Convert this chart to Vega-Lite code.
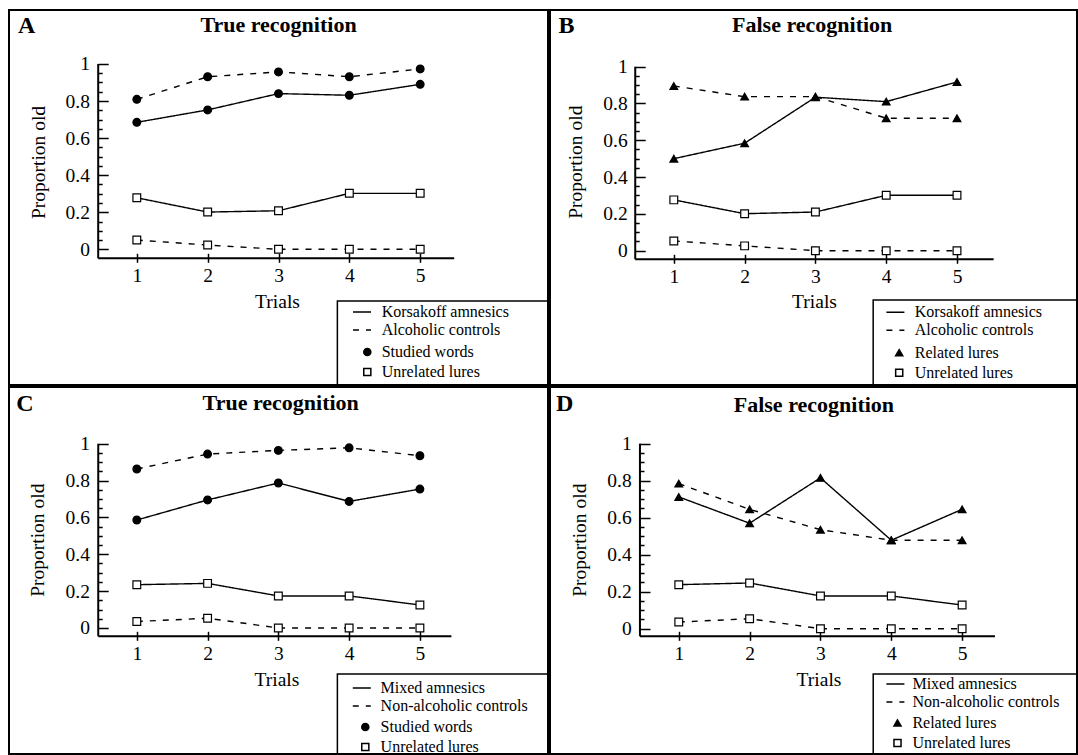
{
  "$schema": "https://vega.github.io/schema/vega-lite/v6.json",
  "padding": {"left": 8, "top": 9, "right": 0, "bottom": 0},
  "background": "white",
  "bounds": "flush",
  "align": "each",
  "spacing": 2,
  "columns": 2,
  "config": {
    "view": {"stroke": "black", "strokeWidth": 2},
    "font": "Liberation Serif",
    "axis": {"labelFont": "Liberation Serif", "titleFont": "Liberation Serif", "labelColor": "black", "titleColor": "black", "tickColor": "black", "grid": false, "domain": false, "labelFontSize": 19.5, "titleFontSize": 19.5},
    "legend": {"labelFont": "Liberation Serif", "labelFontSize": 16, "labelColor": "black", "labelLimit": 400}
  },
  "resolve": {"scale": {"strokeDash": "independent", "shape": "independent", "fill": "independent"}},
  "datasets": {
    "A": [
      {"group": "Korsakoff amnesics", "item": "Studied words", "trial": 1, "value": 0.685},
      {"group": "Korsakoff amnesics", "item": "Studied words", "trial": 2, "value": 0.752},
      {"group": "Korsakoff amnesics", "item": "Studied words", "trial": 3, "value": 0.840},
      {"group": "Korsakoff amnesics", "item": "Studied words", "trial": 4, "value": 0.831},
      {"group": "Korsakoff amnesics", "item": "Studied words", "trial": 5, "value": 0.890},
      {"group": "Alcoholic controls", "item": "Studied words", "trial": 1, "value": 0.809},
      {"group": "Alcoholic controls", "item": "Studied words", "trial": 2, "value": 0.931},
      {"group": "Alcoholic controls", "item": "Studied words", "trial": 3, "value": 0.957},
      {"group": "Alcoholic controls", "item": "Studied words", "trial": 4, "value": 0.931},
      {"group": "Alcoholic controls", "item": "Studied words", "trial": 5, "value": 0.973},
      {"group": "Korsakoff amnesics", "item": "Unrelated lures", "trial": 1, "value": 0.278},
      {"group": "Korsakoff amnesics", "item": "Unrelated lures", "trial": 2, "value": 0.201},
      {"group": "Korsakoff amnesics", "item": "Unrelated lures", "trial": 3, "value": 0.208},
      {"group": "Korsakoff amnesics", "item": "Unrelated lures", "trial": 4, "value": 0.302},
      {"group": "Korsakoff amnesics", "item": "Unrelated lures", "trial": 5, "value": 0.302},
      {"group": "Alcoholic controls", "item": "Unrelated lures", "trial": 1, "value": 0.050},
      {"group": "Alcoholic controls", "item": "Unrelated lures", "trial": 2, "value": 0.023},
      {"group": "Alcoholic controls", "item": "Unrelated lures", "trial": 3, "value": 0.0},
      {"group": "Alcoholic controls", "item": "Unrelated lures", "trial": 4, "value": 0.0},
      {"group": "Alcoholic controls", "item": "Unrelated lures", "trial": 5, "value": 0.0}
    ],
    "B": [
      {"group": "Korsakoff amnesics", "item": "Related lures", "trial": 1, "value": 0.500},
      {"group": "Korsakoff amnesics", "item": "Related lures", "trial": 2, "value": 0.584},
      {"group": "Korsakoff amnesics", "item": "Related lures", "trial": 3, "value": 0.834},
      {"group": "Korsakoff amnesics", "item": "Related lures", "trial": 4, "value": 0.810},
      {"group": "Korsakoff amnesics", "item": "Related lures", "trial": 5, "value": 0.917},
      {"group": "Alcoholic controls", "item": "Related lures", "trial": 1, "value": 0.895},
      {"group": "Alcoholic controls", "item": "Related lures", "trial": 2, "value": 0.837},
      {"group": "Alcoholic controls", "item": "Related lures", "trial": 3, "value": 0.837},
      {"group": "Alcoholic controls", "item": "Related lures", "trial": 4, "value": 0.720},
      {"group": "Alcoholic controls", "item": "Related lures", "trial": 5, "value": 0.720},
      {"group": "Korsakoff amnesics", "item": "Unrelated lures", "trial": 1, "value": 0.276},
      {"group": "Korsakoff amnesics", "item": "Unrelated lures", "trial": 2, "value": 0.201},
      {"group": "Korsakoff amnesics", "item": "Unrelated lures", "trial": 3, "value": 0.210},
      {"group": "Korsakoff amnesics", "item": "Unrelated lures", "trial": 4, "value": 0.301},
      {"group": "Korsakoff amnesics", "item": "Unrelated lures", "trial": 5, "value": 0.301},
      {"group": "Alcoholic controls", "item": "Unrelated lures", "trial": 1, "value": 0.053},
      {"group": "Alcoholic controls", "item": "Unrelated lures", "trial": 2, "value": 0.026},
      {"group": "Alcoholic controls", "item": "Unrelated lures", "trial": 3, "value": 0.0},
      {"group": "Alcoholic controls", "item": "Unrelated lures", "trial": 4, "value": 0.0},
      {"group": "Alcoholic controls", "item": "Unrelated lures", "trial": 5, "value": 0.0}
    ],
    "C": [
      {"group": "Mixed amnesics", "item": "Studied words", "trial": 1, "value": 0.586},
      {"group": "Mixed amnesics", "item": "Studied words", "trial": 2, "value": 0.695},
      {"group": "Mixed amnesics", "item": "Studied words", "trial": 3, "value": 0.787},
      {"group": "Mixed amnesics", "item": "Studied words", "trial": 4, "value": 0.687},
      {"group": "Mixed amnesics", "item": "Studied words", "trial": 5, "value": 0.754},
      {"group": "Non-alcoholic controls", "item": "Studied words", "trial": 1, "value": 0.863},
      {"group": "Non-alcoholic controls", "item": "Studied words", "trial": 2, "value": 0.944},
      {"group": "Non-alcoholic controls", "item": "Studied words", "trial": 3, "value": 0.964},
      {"group": "Non-alcoholic controls", "item": "Studied words", "trial": 4, "value": 0.978},
      {"group": "Non-alcoholic controls", "item": "Studied words", "trial": 5, "value": 0.935},
      {"group": "Mixed amnesics", "item": "Unrelated lures", "trial": 1, "value": 0.235},
      {"group": "Mixed amnesics", "item": "Unrelated lures", "trial": 2, "value": 0.242},
      {"group": "Mixed amnesics", "item": "Unrelated lures", "trial": 3, "value": 0.174},
      {"group": "Mixed amnesics", "item": "Unrelated lures", "trial": 4, "value": 0.174},
      {"group": "Mixed amnesics", "item": "Unrelated lures", "trial": 5, "value": 0.125},
      {"group": "Non-alcoholic controls", "item": "Unrelated lures", "trial": 1, "value": 0.035},
      {"group": "Non-alcoholic controls", "item": "Unrelated lures", "trial": 2, "value": 0.053},
      {"group": "Non-alcoholic controls", "item": "Unrelated lures", "trial": 3, "value": 0.0},
      {"group": "Non-alcoholic controls", "item": "Unrelated lures", "trial": 4, "value": 0.0},
      {"group": "Non-alcoholic controls", "item": "Unrelated lures", "trial": 5, "value": 0.0}
    ],
    "D": [
      {"group": "Mixed amnesics", "item": "Related lures", "trial": 1, "value": 0.712},
      {"group": "Mixed amnesics", "item": "Related lures", "trial": 2, "value": 0.570},
      {"group": "Mixed amnesics", "item": "Related lures", "trial": 3, "value": 0.815},
      {"group": "Mixed amnesics", "item": "Related lures", "trial": 4, "value": 0.478},
      {"group": "Mixed amnesics", "item": "Related lures", "trial": 5, "value": 0.645},
      {"group": "Non-alcoholic controls", "item": "Related lures", "trial": 1, "value": 0.784},
      {"group": "Non-alcoholic controls", "item": "Related lures", "trial": 2, "value": 0.645},
      {"group": "Non-alcoholic controls", "item": "Related lures", "trial": 3, "value": 0.535},
      {"group": "Non-alcoholic controls", "item": "Related lures", "trial": 4, "value": 0.478},
      {"group": "Non-alcoholic controls", "item": "Related lures", "trial": 5, "value": 0.478},
      {"group": "Mixed amnesics", "item": "Unrelated lures", "trial": 1, "value": 0.238},
      {"group": "Mixed amnesics", "item": "Unrelated lures", "trial": 2, "value": 0.247},
      {"group": "Mixed amnesics", "item": "Unrelated lures", "trial": 3, "value": 0.177},
      {"group": "Mixed amnesics", "item": "Unrelated lures", "trial": 4, "value": 0.177},
      {"group": "Mixed amnesics", "item": "Unrelated lures", "trial": 5, "value": 0.128},
      {"group": "Non-alcoholic controls", "item": "Unrelated lures", "trial": 1, "value": 0.036},
      {"group": "Non-alcoholic controls", "item": "Unrelated lures", "trial": 2, "value": 0.054},
      {"group": "Non-alcoholic controls", "item": "Unrelated lures", "trial": 3, "value": 0.0},
      {"group": "Non-alcoholic controls", "item": "Unrelated lures", "trial": 4, "value": 0.0},
      {"group": "Non-alcoholic controls", "item": "Unrelated lures", "trial": 5, "value": 0.0}
    ]
  },
  "concat": [
    {
      "width": 539, "height": 375,
      "data": {"name": "A"},
      "resolve": {"axis": {"x": "independent", "y": "independent"}},
      "layer": [
        {
          "data": {"values": [{}]},
          "mark": {"type": "rule", "stroke": "black", "strokeWidth": 2},
          "encoding": {
            "x": {"datum": 0.455, "type": "quantitative", "scale": {"domain": [-0.804, 6.804], "nice": false, "zero": false}, "axis": null},
            "x2": {"datum": 5.48},
            "y": {"datum": -0.0486, "type": "quantitative", "scale": {"domain": [-0.732, 1.291], "nice": false, "zero": false}, "axis": null}
          }
        },
        {
          "data": {"values": [{}]},
          "mark": {"type": "rule", "stroke": "black", "strokeWidth": 2},
          "encoding": {
            "x": {"datum": 0.455, "type": "quantitative", "scale": {"domain": [-0.804, 6.804], "nice": false, "zero": false}, "axis": null},
            "y": {"datum": -0.0486, "type": "quantitative", "scale": {"domain": [-0.732, 1.291], "nice": false, "zero": false}, "axis": null},
            "y2": {"datum": 1}
          }
        },
        {
          "data": {"values": [{}]},
          "mark": {"type": "rect", "fill": "transparent", "stroke": "black", "strokeWidth": 1.5},
          "encoding": {
            "x": {"datum": 3.831, "type": "quantitative", "scale": {"domain": [-0.804, 6.804], "nice": false, "zero": false}, "axis": null},
            "x2": {"datum": 6.804},
            "y": {"datum": -0.279, "type": "quantitative", "scale": {"domain": [-0.732, 1.291], "nice": false, "zero": false}, "axis": null},
            "y2": {"datum": -0.732}
          }
        },
        {
          "mark": {"type": "line", "color": "black", "strokeWidth": 1.4},
          "encoding": {
            "x": {"field": "trial", "type": "quantitative", "scale": {"domain": [-0.804, 6.804], "nice": false, "zero": false},
              "axis": {"orient": "bottom", "offset": -126.7, "values": [1, 2, 3, 4, 5], "ticks": true, "tickSize": 4, "tickWidth": 1.5, "labelPadding": 19.4, "labelBaseline": "alphabetic", "title": "Trials", "titleX": 268, "titleY": 49, "titleAlign": "center", "titleBaseline": "alphabetic", "titleFontWeight": "normal"}},
            "y": {"field": "value", "type": "quantitative", "scale": {"domain": [-0.732, 1.291], "nice": false, "zero": false},
              "axis": {"orient": "left", "offset": -89.2, "values": [0, 0.2, 0.4, 0.6, 0.8, 1], "format": "~g", "ticks": false, "labelPadding": 8.8, "title": "Proportion old", "titleX": -59.6, "titleY": 152, "titleAngle": 270, "titleAlign": "center", "titleBaseline": "middle", "titleFontWeight": "normal"}},
            "detail": {"field": "item"},
            "strokeDash": {"field": "group", "type": "nominal", "scale": {"domain": ["Korsakoff amnesics", "Alcoholic controls"], "range": [[1, 0], [6, 7]]},
              "legend": {"title": null, "orient": "none", "legendX": 343, "legendY": 292, "symbolType": "stroke", "symbolSize": 324, "symbolStrokeWidth": 1.5, "symbolStrokeColor": "black", "labelOffset": 9.7, "padding": 0, "rowPadding": 0}}
          }
        },
        {
          "mark": {"type": "point", "filled": true, "stroke": "black", "strokeWidth": 1.2, "size": 60, "opacity": 1},
          "encoding": {
            "x": {"field": "trial", "type": "quantitative", "scale": {"domain": [-0.804, 6.804], "nice": false, "zero": false},
              "axis": {"orient": "top", "offset": -248.3, "values": [1, 2, 3, 4, 5], "labels": false, "ticks": true, "tickSize": 5, "tickWidth": 1.5, "title": "True recognition", "titleX": 269, "titleY": -226.6, "titleAlign": "center", "titleBaseline": "alphabetic", "titleFontSize": 22, "titleFontWeight": "bold"}},
            "y": {"field": "value", "type": "quantitative", "scale": {"domain": [-0.732, 1.291], "nice": false, "zero": false},
              "axis": {"orient": "right", "offset": -449.8, "values": [0, 0.05, 0.1, 0.15, 0.2, 0.25, 0.3, 0.35, 0.4, 0.45, 0.5, 0.55, 0.6, 0.65, 0.7, 0.75, 0.8, 0.85, 0.9, 0.95, 1], "labels": false, "ticks": true, "tickWidth": 1.5,
                "tickSize": {"condition": {"test": "abs(datum.value*5 - round(datum.value*5)) < 0.001", "value": 10}, "value": 4},
                "title": "A", "titleX": -80.7, "titleY": 22.3, "titleAngle": 0, "titleAlign": "left", "titleBaseline": "alphabetic", "titleFontSize": 24, "titleFontWeight": "bold"}},
            "shape": {"field": "item", "type": "nominal", "scale": {"domain": ["Studied words", "Unrelated lures"], "range": ["circle", "square"]},
              "legend": {"title": null, "orient": "none", "legendX": 350.3, "legendY": 334, "symbolSize": 50, "symbolStrokeWidth": 1.5, "labelOffset": 6.4, "padding": 0, "rowPadding": 4, "encode": {"symbols": {"update": {"stroke": {"value": "black"}, "strokeWidth": {"value": 1.5}}}}}},
            "fill": {"field": "item", "type": "nominal", "scale": {"domain": ["Studied words", "Unrelated lures"], "range": ["black", "white"]},
              "legend": {"title": null, "orient": "none", "legendX": 350.3, "legendY": 334, "symbolSize": 50, "symbolStrokeWidth": 1.5, "labelOffset": 6.4, "padding": 0, "rowPadding": 4, "encode": {"symbols": {"update": {"stroke": {"value": "black"}, "strokeWidth": {"value": 1.5}}}}}}
          }
        }
      ]
    },
    {
      "width": 527, "height": 375,
      "data": {"name": "B"},
      "resolve": {"axis": {"x": "independent", "y": "independent"}},
      "layer": [
        {
          "data": {"values": [{}]},
          "mark": {"type": "rule", "stroke": "black", "strokeWidth": 2},
          "encoding": {
            "x": {"datum": 0.455, "type": "quantitative", "scale": {"domain": [-0.749, 6.695], "nice": false, "zero": false}, "axis": null},
            "x2": {"datum": 5.517},
            "y": {"datum": -0.0467, "type": "quantitative", "scale": {"domain": [-0.730, 1.308], "nice": false, "zero": false}, "axis": null}
          }
        },
        {
          "data": {"values": [{}]},
          "mark": {"type": "rule", "stroke": "black", "strokeWidth": 2},
          "encoding": {
            "x": {"datum": 0.455, "type": "quantitative", "scale": {"domain": [-0.749, 6.695], "nice": false, "zero": false}, "axis": null},
            "y": {"datum": -0.0467, "type": "quantitative", "scale": {"domain": [-0.730, 1.308], "nice": false, "zero": false}, "axis": null},
            "y2": {"datum": 1}
          }
        },
        {
          "data": {"values": [{}]},
          "mark": {"type": "rect", "fill": "transparent", "stroke": "black", "strokeWidth": 1.5},
          "encoding": {
            "x": {"datum": 3.816, "type": "quantitative", "scale": {"domain": [-0.749, 6.695], "nice": false, "zero": false}, "axis": null},
            "x2": {"datum": 6.695},
            "y": {"datum": -0.268, "type": "quantitative", "scale": {"domain": [-0.730, 1.308], "nice": false, "zero": false}, "axis": null},
            "y2": {"datum": -0.730}
          }
        },
        {
          "mark": {"type": "line", "color": "black", "strokeWidth": 1.4},
          "encoding": {
            "x": {"field": "trial", "type": "quantitative", "scale": {"domain": [-0.749, 6.695], "nice": false, "zero": false},
              "axis": {"orient": "bottom", "offset": -125.7, "values": [1, 2, 3, 4, 5], "ticks": true, "tickSize": 4, "tickWidth": 1.5, "labelPadding": 19.4, "labelBaseline": "alphabetic", "title": "Trials", "titleX": 264, "titleY": 48, "titleAlign": "center", "titleBaseline": "alphabetic", "titleFontWeight": "normal"}},
            "y": {"field": "value", "type": "quantitative", "scale": {"domain": [-0.730, 1.308], "nice": false, "zero": false},
              "axis": {"orient": "left", "offset": -85.2, "values": [0, 0.2, 0.4, 0.6, 0.8, 1], "format": "~g", "ticks": false, "labelPadding": 8, "title": "Proportion old", "titleX": -59.3, "titleY": 151.7, "titleAngle": 270, "titleAlign": "center", "titleBaseline": "middle", "titleFontWeight": "normal"}},
            "detail": {"field": "item"},
            "strokeDash": {"field": "group", "type": "nominal", "scale": {"domain": ["Korsakoff amnesics", "Alcoholic controls"], "range": [[1, 0], [6, 7]]},
              "legend": {"title": null, "orient": "none", "legendX": 335.4, "legendY": 292.3, "symbolType": "stroke", "symbolSize": 324, "symbolStrokeWidth": 1.5, "symbolStrokeColor": "black", "labelOffset": 9.4, "padding": 0, "rowPadding": 0}}
          }
        },
        {
          "mark": {"type": "point", "filled": true, "stroke": "black", "strokeWidth": 1.2, "size": 60, "opacity": 1},
          "encoding": {
            "x": {"field": "trial", "type": "quantitative", "scale": {"domain": [-0.749, 6.695], "nice": false, "zero": false},
              "axis": {"orient": "top", "offset": -249.3, "values": [1, 2, 3, 4, 5], "labels": false, "ticks": true, "tickSize": 5, "tickWidth": 1.5, "title": "False recognition", "titleX": 261.7, "titleY": -227.6, "titleAlign": "center", "titleBaseline": "alphabetic", "titleFontSize": 22, "titleFontWeight": "bold"}},
            "y": {"field": "value", "type": "quantitative", "scale": {"domain": [-0.730, 1.308], "nice": false, "zero": false},
              "axis": {"orient": "right", "offset": -441.8, "values": [0, 0.05, 0.1, 0.15, 0.2, 0.25, 0.3, 0.35, 0.4, 0.45, 0.5, 0.55, 0.6, 0.65, 0.7, 0.75, 0.8, 0.85, 0.9, 0.95, 1], "labels": false, "ticks": true, "tickWidth": 1.5,
                "tickSize": {"condition": {"test": "abs(datum.value*5 - round(datum.value*5)) < 0.001", "value": 10}, "value": 4},
                "title": "B", "titleX": -77.2, "titleY": 22.3, "titleAngle": 0, "titleAlign": "left", "titleBaseline": "alphabetic", "titleFontSize": 24, "titleFontWeight": "bold"}},
            "shape": {"field": "item", "type": "nominal", "scale": {"domain": ["Related lures", "Unrelated lures"], "range": ["triangle-up", "square"]},
              "legend": {"title": null, "orient": "none", "legendX": 341.2, "legendY": 334.7, "symbolSize": 50, "symbolStrokeWidth": 1.5, "labelOffset": 7.6, "padding": 0, "rowPadding": 4, "encode": {"symbols": {"update": {"stroke": {"value": "black"}, "strokeWidth": {"value": 1.5}}}}}},
            "fill": {"field": "item", "type": "nominal", "scale": {"domain": ["Related lures", "Unrelated lures"], "range": ["black", "white"]},
              "legend": {"title": null, "orient": "none", "legendX": 341.2, "legendY": 334.7, "symbolSize": 50, "symbolStrokeWidth": 1.5, "labelOffset": 7.6, "padding": 0, "rowPadding": 4, "encode": {"symbols": {"update": {"stroke": {"value": "black"}, "strokeWidth": {"value": 1.5}}}}}}
          }
        }
      ]
    },
    {
      "width": 539, "height": 367,
      "data": {"name": "C"},
      "resolve": {"axis": {"x": "independent", "y": "independent"}},
      "layer": [
        {
          "data": {"values": [{}]},
          "mark": {"type": "rule", "stroke": "black", "strokeWidth": 2},
          "encoding": {
            "x": {"datum": 0.455, "type": "quantitative", "scale": {"domain": [-0.806, 6.810], "nice": false, "zero": false}, "axis": null},
            "x2": {"datum": 5.445},
            "y": {"datum": -0.045, "type": "quantitative", "scale": {"domain": [-0.684, 1.308], "nice": false, "zero": false}, "axis": null}
          }
        },
        {
          "data": {"values": [{}]},
          "mark": {"type": "rule", "stroke": "black", "strokeWidth": 2},
          "encoding": {
            "x": {"datum": 0.455, "type": "quantitative", "scale": {"domain": [-0.806, 6.810], "nice": false, "zero": false}, "axis": null},
            "y": {"datum": -0.045, "type": "quantitative", "scale": {"domain": [-0.684, 1.308], "nice": false, "zero": false}, "axis": null},
            "y2": {"datum": 1}
          }
        },
        {
          "data": {"values": [{}]},
          "mark": {"type": "rect", "fill": "transparent", "stroke": "black", "strokeWidth": 1.5},
          "encoding": {
            "x": {"datum": 3.834, "type": "quantitative", "scale": {"domain": [-0.806, 6.810], "nice": false, "zero": false}, "axis": null},
            "x2": {"datum": 6.810},
            "y": {"datum": -0.250, "type": "quantitative", "scale": {"domain": [-0.684, 1.308], "nice": false, "zero": false}, "axis": null},
            "y2": {"datum": -0.684}
          }
        },
        {
          "mark": {"type": "line", "color": "black", "strokeWidth": 1.4},
          "encoding": {
            "x": {"field": "trial", "type": "quantitative", "scale": {"domain": [-0.806, 6.810], "nice": false, "zero": false},
              "axis": {"orient": "bottom", "offset": -117.7, "values": [1, 2, 3, 4, 5], "ticks": true, "tickSize": 4, "tickWidth": 1.5, "labelPadding": 19.4, "labelBaseline": "alphabetic", "title": "Trials", "titleX": 267.4, "titleY": 49, "titleAlign": "center", "titleBaseline": "alphabetic", "titleFontWeight": "normal"}},
            "y": {"field": "value", "type": "quantitative", "scale": {"domain": [-0.684, 1.308], "nice": false, "zero": false},
              "axis": {"orient": "left", "offset": -89.2, "values": [0, 0.2, 0.4, 0.6, 0.8, 1], "format": "~g", "ticks": false, "labelPadding": 8.8, "title": "Proportion old", "titleX": -60.5, "titleY": 152.7, "titleAngle": 270, "titleAlign": "center", "titleBaseline": "middle", "titleFontWeight": "normal"}},
            "detail": {"field": "item"},
            "strokeDash": {"field": "group", "type": "nominal", "scale": {"domain": ["Mixed amnesics", "Non-alcoholic controls"], "range": [[1, 0], [6, 7]]},
              "legend": {"title": null, "orient": "none", "legendX": 342.8, "legendY": 291, "symbolType": "stroke", "symbolSize": 324, "symbolStrokeWidth": 1.5, "symbolStrokeColor": "black", "labelOffset": 8.8, "padding": 0, "rowPadding": 0}}
          }
        },
        {
          "mark": {"type": "point", "filled": true, "stroke": "black", "strokeWidth": 1.2, "size": 60, "opacity": 1},
          "encoding": {
            "x": {"field": "trial", "type": "quantitative", "scale": {"domain": [-0.806, 6.810], "nice": false, "zero": false},
              "axis": {"orient": "top", "offset": -249.3, "values": [1, 2, 3, 4, 5], "labels": false, "ticks": true, "tickSize": 5, "tickWidth": 1.5, "title": "True recognition", "titleX": 271.2, "titleY": -226.6, "titleAlign": "center", "titleBaseline": "alphabetic", "titleFontSize": 22, "titleFontWeight": "bold"}},
            "y": {"field": "value", "type": "quantitative", "scale": {"domain": [-0.684, 1.308], "nice": false, "zero": false},
              "axis": {"orient": "right", "offset": -449.8, "values": [0, 0.05, 0.1, 0.15, 0.2, 0.25, 0.3, 0.35, 0.4, 0.45, 0.5, 0.55, 0.6, 0.65, 0.7, 0.75, 0.8, 0.85, 0.9, 0.95, 1], "labels": false, "ticks": true, "tickWidth": 1.5,
                "tickSize": {"condition": {"test": "abs(datum.value*5 - round(datum.value*5)) < 0.001", "value": 10}, "value": 4},
                "title": "C", "titleX": -82.4, "titleY": 23.3, "titleAngle": 0, "titleAlign": "left", "titleBaseline": "alphabetic", "titleFontSize": 24, "titleFontWeight": "bold"}},
            "shape": {"field": "item", "type": "nominal", "scale": {"domain": ["Studied words", "Unrelated lures"], "range": ["circle", "square"]},
              "legend": {"title": null, "orient": "none", "legendX": 348.3, "legendY": 332, "symbolSize": 50, "symbolStrokeWidth": 1.5, "labelOffset": 7.3, "padding": 0, "rowPadding": 4, "encode": {"symbols": {"update": {"stroke": {"value": "black"}, "strokeWidth": {"value": 1.5}}}}}},
            "fill": {"field": "item", "type": "nominal", "scale": {"domain": ["Studied words", "Unrelated lures"], "range": ["black", "white"]},
              "legend": {"title": null, "orient": "none", "legendX": 348.3, "legendY": 332, "symbolSize": 50, "symbolStrokeWidth": 1.5, "labelOffset": 7.3, "padding": 0, "rowPadding": 4, "encode": {"symbols": {"update": {"stroke": {"value": "black"}, "strokeWidth": {"value": 1.5}}}}}}
          }
        }
      ]
    },
    {
      "width": 527, "height": 367,
      "data": {"name": "D"},
      "resolve": {"axis": {"x": "independent", "y": "independent"}},
      "layer": [
        {
          "data": {"values": [{}]},
          "mark": {"type": "rule", "stroke": "black", "strokeWidth": 2},
          "encoding": {
            "x": {"datum": 0.452, "type": "quantitative", "scale": {"domain": [-0.818, 6.622], "nice": false, "zero": false}, "axis": null},
            "x2": {"datum": 5.464},
            "y": {"datum": -0.041, "type": "quantitative", "scale": {"domain": [-0.677, 1.306], "nice": false, "zero": false}, "axis": null}
          }
        },
        {
          "data": {"values": [{}]},
          "mark": {"type": "rule", "stroke": "black", "strokeWidth": 2},
          "encoding": {
            "x": {"datum": 0.452, "type": "quantitative", "scale": {"domain": [-0.818, 6.622], "nice": false, "zero": false}, "axis": null},
            "y": {"datum": -0.041, "type": "quantitative", "scale": {"domain": [-0.677, 1.306], "nice": false, "zero": false}, "axis": null},
            "y2": {"datum": 1}
          }
        },
        {
          "data": {"values": [{}]},
          "mark": {"type": "rect", "fill": "transparent", "stroke": "black", "strokeWidth": 1.5},
          "encoding": {
            "x": {"datum": 3.745, "type": "quantitative", "scale": {"domain": [-0.818, 6.622], "nice": false, "zero": false}, "axis": null},
            "x2": {"datum": 6.622},
            "y": {"datum": -0.245, "type": "quantitative", "scale": {"domain": [-0.677, 1.306], "nice": false, "zero": false}, "axis": null},
            "y2": {"datum": -0.677}
          }
        },
        {
          "mark": {"type": "line", "color": "black", "strokeWidth": 1.4},
          "encoding": {
            "x": {"field": "trial", "type": "quantitative", "scale": {"domain": [-0.818, 6.622], "nice": false, "zero": false},
              "axis": {"orient": "bottom", "offset": -117.7, "values": [1, 2, 3, 4, 5], "ticks": true, "tickSize": 4, "tickWidth": 1.5, "labelPadding": 19.4, "labelBaseline": "alphabetic", "title": "Trials", "titleX": 268.5, "titleY": 49, "titleAlign": "center", "titleBaseline": "alphabetic", "titleFontWeight": "normal"}},
            "y": {"field": "value", "type": "quantitative", "scale": {"domain": [-0.677, 1.306], "nice": false, "zero": false},
              "axis": {"orient": "left", "offset": -90, "values": [0, 0.2, 0.4, 0.6, 0.8, 1], "format": "~g", "ticks": false, "labelPadding": 8.8, "title": "Proportion old", "titleX": -60.7, "titleY": 152.7, "titleAngle": 270, "titleAlign": "center", "titleBaseline": "middle", "titleFontWeight": "normal"}},
            "detail": {"field": "item"},
            "strokeDash": {"field": "group", "type": "nominal", "scale": {"domain": ["Mixed amnesics", "Non-alcoholic controls"], "range": [[1, 0], [6, 7]]},
              "legend": {"title": null, "orient": "none", "legendX": 335.4, "legendY": 287, "symbolType": "stroke", "symbolSize": 324, "symbolStrokeWidth": 1.5, "symbolStrokeColor": "black", "labelOffset": 7, "padding": 0, "rowPadding": 0}}
          }
        },
        {
          "mark": {"type": "point", "filled": true, "stroke": "black", "strokeWidth": 1.2, "size": 60, "opacity": 1},
          "encoding": {
            "x": {"field": "trial", "type": "quantitative", "scale": {"domain": [-0.818, 6.622], "nice": false, "zero": false},
              "axis": {"orient": "top", "offset": -249.3, "values": [1, 2, 3, 4, 5], "labels": false, "ticks": true, "tickSize": 5, "tickWidth": 1.5, "title": "False recognition", "titleX": 263.4, "titleY": -225.3, "titleAlign": "center", "titleBaseline": "alphabetic", "titleFontSize": 22, "titleFontWeight": "bold"}},
            "y": {"field": "value", "type": "quantitative", "scale": {"domain": [-0.677, 1.306], "nice": false, "zero": false},
              "axis": {"orient": "right", "offset": -437, "values": [0, 0.05, 0.1, 0.15, 0.2, 0.25, 0.3, 0.35, 0.4, 0.45, 0.5, 0.55, 0.6, 0.65, 0.7, 0.75, 0.8, 0.85, 0.9, 0.95, 1], "labels": false, "ticks": true, "tickWidth": 1.5,
                "tickSize": {"condition": {"test": "abs(datum.value*5 - round(datum.value*5)) < 0.001", "value": 10}, "value": 4},
                "title": "D", "titleX": -84.6, "titleY": 23.3, "titleAngle": 0, "titleAlign": "left", "titleBaseline": "alphabetic", "titleFontSize": 24, "titleFontWeight": "bold"}},
            "shape": {"field": "item", "type": "nominal", "scale": {"domain": ["Related lures", "Unrelated lures"], "range": ["triangle-up", "square"]},
              "legend": {"title": null, "orient": "none", "legendX": 339.5, "legendY": 328, "symbolSize": 50, "symbolStrokeWidth": 1.5, "labelOffset": 6.9, "padding": 0, "rowPadding": 4, "encode": {"symbols": {"update": {"stroke": {"value": "black"}, "strokeWidth": {"value": 1.5}}}}}},
            "fill": {"field": "item", "type": "nominal", "scale": {"domain": ["Related lures", "Unrelated lures"], "range": ["black", "white"]},
              "legend": {"title": null, "orient": "none", "legendX": 339.5, "legendY": 328, "symbolSize": 50, "symbolStrokeWidth": 1.5, "labelOffset": 6.9, "padding": 0, "rowPadding": 4, "encode": {"symbols": {"update": {"stroke": {"value": "black"}, "strokeWidth": {"value": 1.5}}}}}}
          }
        }
      ]
    }
  ]
}
